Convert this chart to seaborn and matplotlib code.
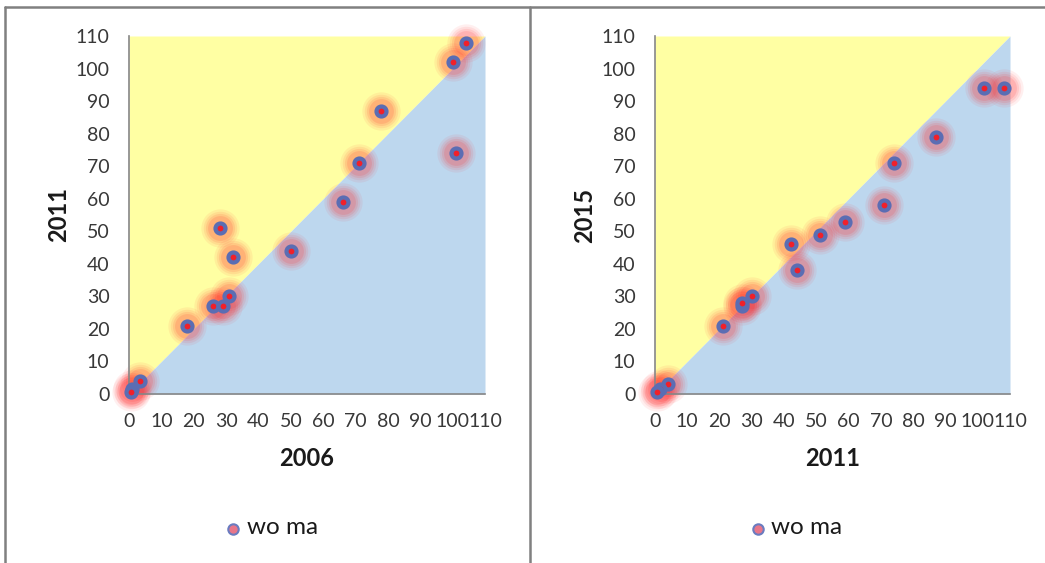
import matplotlib
matplotlib.use("Agg")
import matplotlib.pyplot as plt
import seaborn as sns
import numpy as np
import pandas as pd
from matplotlib.lines import Line2D

# ---- data ----
left_x = [104, 100, 78, 101, 71, 66, 28, 32, 50, 31, 26, 29, 18, 3.5, 1, 0.5]
left_y = [108, 102, 87, 74, 71, 59, 51, 42, 44, 30, 27, 27, 21, 4, 1.5, 0.5]
right_x = [108, 102, 87, 74, 71, 59, 51, 42, 44, 30, 27, 27, 21, 4, 1.5, 0.5]
right_y = [94, 94, 79, 71, 58, 53, 49, 46, 38, 30, 27, 28, 21, 3, 1.5, 0.5]
ticks = list(range(0, 111, 10))
series_name = "wo ma"
left_labels = ("2006", "2011")
right_labels = ("2011", "2015")

sns.set_theme(style="white")
plt.rcParams['font.family'] = ['Lato', 'DejaVu Sans']

fig = plt.figure(figsize=(10.45, 5.63), dpi=100)
W, H = 1045, 563

YELLOW = "#FFFFA3"
BLUE = "#BDD7EE"
RING = "#5B6DB3"
CORE = "#F0202A"
GLOW = "#FF2A2A"
GRAY = "#868686"
TXT = "#383838"


def panel(ax, xs, ys, xlabel, ylabel):
    df = pd.DataFrame({"x": xs, "y": ys})
    grid = np.array([0, 110])
    ax.fill_between(grid, grid, 110, color=YELLOW, lw=0, zorder=0)
    ax.fill_between(grid, 0, grid, color=BLUE, lw=0, zorder=0)
    # glow layers
    for s, a in [(760, 0.07), (580, 0.09), (440, 0.11), (320, 0.14)]:
        sns.scatterplot(data=df, x="x", y="y", ax=ax, s=s, color=GLOW,
                        alpha=a, linewidth=0, legend=False, zorder=2,
                        clip_on=False)
    sns.scatterplot(data=df, x="x", y="y", ax=ax, s=52, color=CORE,
                    edgecolor=RING, linewidth=3.0, legend=False, zorder=3,
                    clip_on=False)
    ax.set_xlim(0, 110)
    ax.set_ylim(0, 110)
    ax.set_xticks(ticks)
    ax.set_yticks(ticks)
    ax.set_xticklabels([str(t) for t in ticks], fontsize=14, color=TXT)
    ax.set_yticklabels([str(t) for t in ticks], fontsize=14, color=TXT)
    ax.tick_params(axis='both', direction='out', length=5, width=1,
                   color=GRAY)
    ax.tick_params(axis='x', pad=9)
    ax.tick_params(axis='y', pad=9)
    for side in ("top", "right"):
        ax.spines[side].set_visible(False)
    for side in ("left", "bottom"):
        ax.spines[side].set_color(GRAY)
        ax.spines[side].set_linewidth(1.2)
    ax.set_xlabel(xlabel, fontsize=17, fontweight='bold', color="#1a1a1a",
                  labelpad=12)
    ax.set_ylabel(ylabel, fontsize=17, fontweight='bold', color="#1a1a1a",
                  labelpad=4)
    ax.set_facecolor("white")
    ax.set_axisbelow(False)


axL = fig.add_axes([129 / W, (H - 394) / H, (485 - 129) / W, (394 - 36) / H])
axR = fig.add_axes([655 / W, (H - 394) / H, (1010 - 655) / W, (394 - 36) / H])
panel(axL, left_x, left_y, *left_labels)
panel(axR, right_x, right_y, *right_labels)

# legends
for mx, tx in [(233, 247), (758, 771)]:
    fig.add_artist(Line2D([mx / W], [(H - 529) / H], transform=fig.transFigure,
                          marker='o', markersize=7.5, markerfacecolor="#E8768A",
                          markeredgecolor="#6A7CC0", markeredgewidth=1.5,
                          linestyle='none'))
    fig.text(tx / W, (H - 528) / H, series_name, fontsize=17.5, color="#1a1a1a",
             va='center', ha='left')

# panel frames
def fline(xs, ys):
    fig.add_artist(Line2D([x / W for x in xs], [(H - y) / H for y in ys],
                          transform=fig.transFigure, color="#808080", lw=1.8))

fline([5, 1045], [7, 7])
fline([5, 5], [7, 563])
fline([530, 530], [7, 563])

fig.savefig("out.png", dpi=100, facecolor="white")
